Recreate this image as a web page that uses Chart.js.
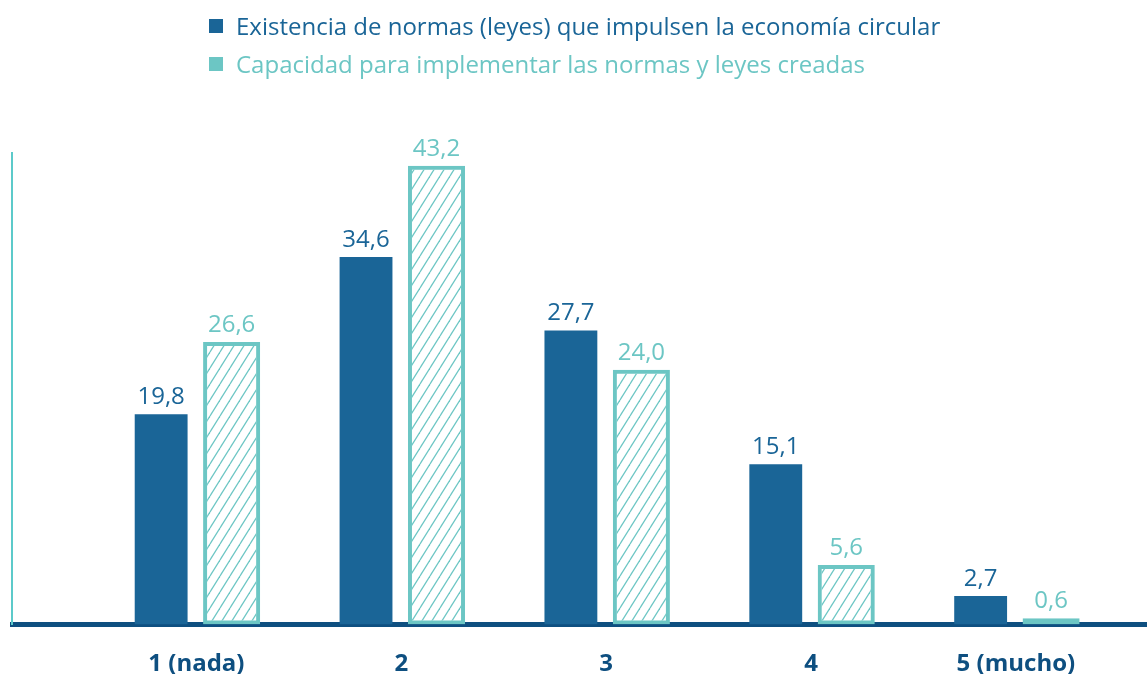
<!DOCTYPE html>
<html lang="es">
<head>
<meta charset="utf-8">
<title>Normas y economía circular</title>
<script src="https://cdn.jsdelivr.net/npm/chart.js@4.4.1/dist/chart.umd.min.js"></script>
<style>
    html, body { margin: 0; padding: 0; background: #fff; }
    body { width: 1147px; height: 674px; overflow: hidden; position: relative; font-family: 'Open Sans', sans-serif; }
    #chart-wrap { position: absolute; left: 0; top: 0; width: 1147px; height: 674px; }
    #chart-legend { position: absolute; left: 209px; top: 12px; }
    .legend-item { display: flex; align-items: center; height: 28px; margin-bottom: 10px; font-size: 24px; line-height: 28px; white-space: nowrap; }
    .legend-item span { display: block; width: 14px; height: 14px; margin-right: 13px; }
</style>
</head>
<body>
<div id="chart-wrap"><canvas id="bar-chart"></canvas></div>
<div id="chart-legend"></div>
<script>
// categorías y series
const categories = ['1 (nada)', '2', '3', '4', '5 (mucho)'];
const seriesNames = [
    'Existencia de normas (leyes) que impulsen la economía circular',
    'Capacidad para implementar las normas y leyes creadas'
];
const existencia = [19.8, 34.6, 27.7, 15.1, 2.7];
const capacidad = [26.6, 43.2, 24.0, 5.6, 0.6];

const colorBlue = '#1a6597';
const colorTeal = '#6cc6c4';
const colorAxis = '#0e4f80';

function fmt(v) {
    return v.toFixed(1).replace('.', ',');
}

// trama rayada para la segunda serie
function hatch(color) {
    const w = 10, h = 16;
    const c = document.createElement('canvas');
    c.width = w;
    c.height = h;
    const g = c.getContext('2d');
    g.strokeStyle = color;
    g.lineWidth = 1.3;
    [-w, 0, w].forEach(function(dx) {
        g.beginPath();
        g.moveTo(dx, h);
        g.lineTo(dx + w, 0);
        g.stroke();
    });
    return g.createPattern(c, 'repeat');
}

const valueLabels = {
    id: 'valueLabels',
    afterDatasetsDraw(chart) {
        const ctx = chart.ctx;
        ctx.save();
        ctx.font = '24px "Open Sans"';
        ctx.textAlign = 'center';
        ctx.textBaseline = 'alphabetic';
        chart.data.datasets.forEach(function(ds, i) {
            const meta = chart.getDatasetMeta(i);
            ctx.fillStyle = i === 0 ? colorBlue : colorTeal;
            meta.data.forEach(function(bar, j) {
                ctx.fillText(fmt(ds.data[j].y), bar.x, bar.y - 10);
            });
        });
        ctx.restore();
    }
};

document.addEventListener('DOMContentLoaded', function() {
    Chart.defaults.font.family = "'Open Sans', sans-serif";

    const ctx = document.getElementById('bar-chart').getContext('2d');
    new Chart(ctx, {
        type: 'bar',
        data: {
            datasets: [{
                label: seriesNames[0],
                data: existencia.map((v, i) => ({ x: i + 1, y: v })),
                backgroundColor: colorBlue,
                borderWidth: 0,
                barPercentage: 0.75,
                categoryPercentage: 0.688
            }, {
                label: seriesNames[1],
                data: capacidad.map((v, i) => ({ x: i + 1, y: v })),
                backgroundColor: hatch(colorTeal),
                borderColor: colorTeal,
                borderWidth: 4,
                borderSkipped: false,
                barPercentage: 0.81,
                categoryPercentage: 0.688
            }]
        },
        options: {
            responsive: true,
            maintainAspectRatio: false,
            animation: false,
            layout: {
                padding: { left: 12, right: 0, top: 153, bottom: 0 }
            },
            plugins: {
                legend: { display: false },
                tooltip: { enabled: false }
            },
            scales: {
                x: {
                    type: 'linear',
                    min: 0.1,
                    max: 5.64,
                    offset: false,
                    z: 1,
                    grid: { display: false, drawTicks: true, tickLength: 29 },
                    border: { display: true, color: colorAxis, width: 5 },
                    ticks: {
                        stepSize: 1,
                        includeBounds: false,
                        autoSkip: false,
                        maxRotation: 0,
                        padding: 0,
                        color: colorAxis,
                        font: { size: 24, weight: 'bold', lineHeight: 0.85 },
                        callback: function(value) {
                            return categories[value - 1] ?? '';
                        }
                    }
                },
                y: {
                    min: 0,
                    max: 44.4,
                    grid: { display: false, drawTicks: false },
                    border: { display: true, color: '#5ccaca', width: 2 },
                    ticks: { display: false }
                }
            }
        },
        plugins: [valueLabels]
    });

    const legendContainer = document.getElementById('chart-legend');
    [colorBlue, colorTeal].forEach(function(color, index) {
        const item = document.createElement('div');
        item.classList.add('legend-item');
        item.style.color = color;
        item.innerHTML = `<span style="background-color: ${color}"></span>${seriesNames[index]}`;
        legendContainer.appendChild(item);
    });
});
</script>
</body>
</html>
